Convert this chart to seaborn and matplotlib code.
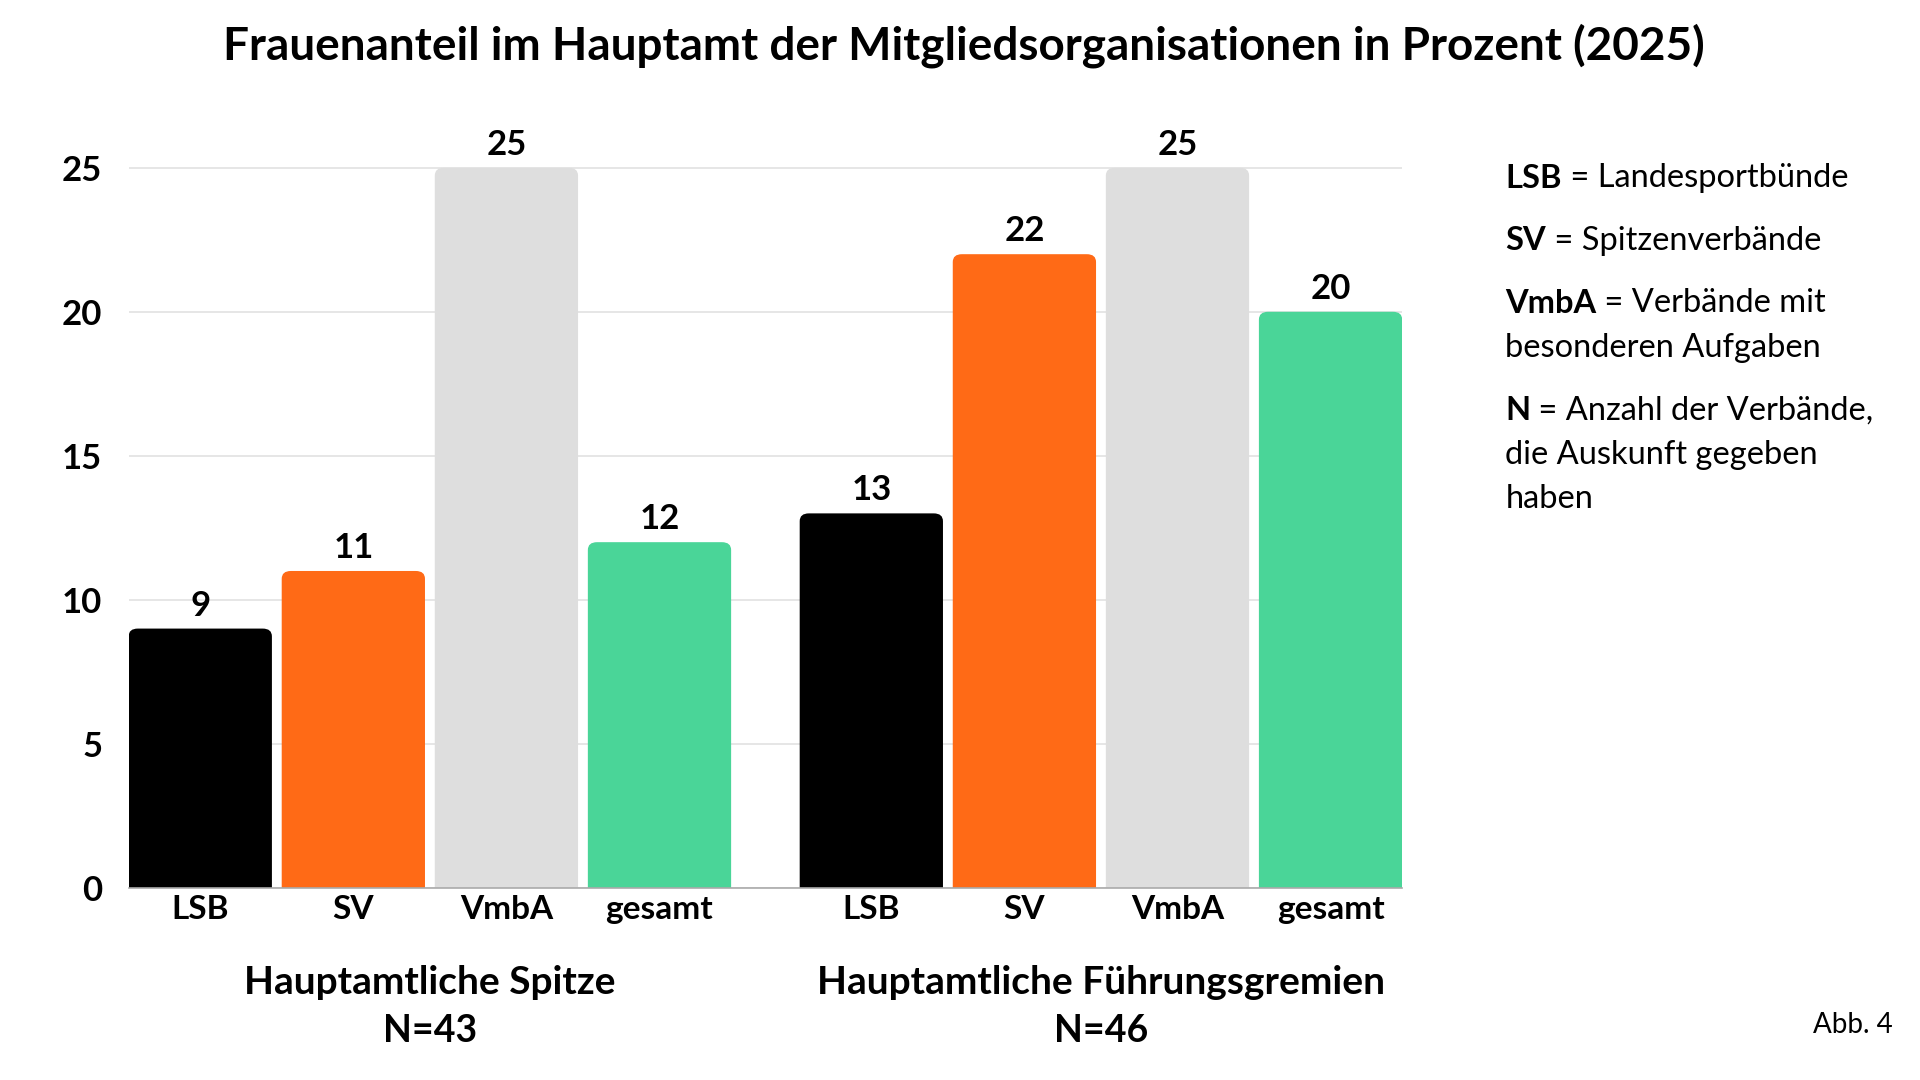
import pandas as pd
import numpy as np
import matplotlib
matplotlib.use('Agg')
import matplotlib.pyplot as plt
import matplotlib.transforms as mtransforms
from matplotlib.patches import FancyBboxPatch
import seaborn as sns

# Data
kategorien = ['LSB', 'SV', 'VmbA', 'gesamt']
gruppen = ['Hauptamtliche Spitze', 'Hauptamtliche Führungsgremien']
gruppen_n = ['N=43', 'N=46']
werte_spitze = [9, 11, 25, 12]
werte_gremien = [13, 22, 25, 20]
farben = {'LSB': '#000000', 'SV': '#FF6A16', 'VmbA': '#DEDEDE', 'gesamt': '#4AD598'}

legende = [
    ('LSB', ' = Landesportbünde', []),
    ('SV', ' = Spitzenverbände', []),
    ('VmbA', ' = Verbände mit', ['besonderen Aufgaben']),
    ('N', ' = Anzahl der Verbände,', ['die Auskunft gegeben', 'haben']),
]

# Build table: bar positions with a gap between the two groups
gap = 0.384
rows = []
for g, werte in enumerate([werte_spitze, werte_gremien]):
    for i, (k, w) in enumerate(zip(kategorien, werte)):
        rows.append({'pos': g * (len(kategorien) + gap) + i, 'kategorie': k,
                     'wert': w, 'gruppe': gruppen[g]})
df = pd.DataFrame(rows)

sns.set_theme(style='white')
plt.rcParams['font.family'] = ['Lato', 'DejaVu Sans']
plt.rcParams['text.color'] = 'black'
plt.rcParams['xtick.color'] = 'black'
plt.rcParams['ytick.color'] = 'black'

fig = plt.figure(figsize=(19.2, 10.8), dpi=100)
ax = fig.add_axes([0.067, 0.178, 0.6633, 0.6933])

sns.barplot(data=df, x='pos', y='wert', hue='kategorie', palette=farben,
            native_scale=True, dodge=False, width=0.936, legend=False,
            saturation=1, ax=ax, zorder=2)

# Rounded top corners
ymax = 26
ax.set_ylim(0, ymax)
ax.set_xlim(df['pos'].min() - 0.468, df['pos'].max() + 0.468)
for p in list(ax.patches):
    x, w, h = p.get_x(), p.get_width(), p.get_height()
    fc = p.get_facecolor()
    p.remove()
    rb = FancyBboxPatch((x, -1), w, h + 1,
                        boxstyle='round,pad=0,rounding_size=0.06',
                        mutation_aspect=4.5, facecolor=fc, edgecolor='none',
                        zorder=2)
    ax.add_patch(rb)

# Value labels
for _, r in df.iterrows():
    ax.annotate(f"{r['wert']:g}", (r['pos'], r['wert']), xytext=(0, 5),
                textcoords='offset points', ha='center', va='bottom',
                fontsize=25, fontweight='bold', color='black')

# Axes styling
ax.set_yticks([0, 5, 10, 15, 20, 25])
ax.yaxis.grid(True, color='#E2E2E2', linewidth=1.2, zorder=0)
ax.set_axisbelow(True)
ax.set_xticks(df['pos'])
ax.set_xticklabels(df['kategorie'])
ax.tick_params(axis='x', length=0, pad=5, labelsize=24, labelcolor='black')
ax.tick_params(axis='y', length=0, pad=19, labelsize=25, labelcolor='black')
for lab in ax.get_xticklabels() + ax.get_yticklabels():
    lab.set_fontweight('bold')
for s in ['top', 'right', 'left']:
    ax.spines[s].set_visible(False)
ax.spines['bottom'].set_color('#AAAAAA')
ax.spines['bottom'].set_linewidth(1.2)
ax.set_xlabel('')
ax.set_ylabel('')

# Group labels
trans = mtransforms.blended_transform_factory(ax.transData, fig.transFigure)
for g in range(len(gruppen)):
    mitte = df[df['gruppe'] == gruppen[g]]['pos'].mean()
    ax.text(mitte, 0.090, gruppen[g], transform=trans, ha='center', va='center',
            fontsize=28, fontweight='bold')
    ax.text(mitte, 0.045, gruppen_n[g], transform=trans, ha='center', va='center',
            fontsize=27, fontweight='bold')

# Title
fig.text(0.502, 0.958, 'Frauenanteil im Hauptamt der Mitgliedsorganisationen in Prozent (2025)',
         ha='center', va='center', fontsize=33, fontweight='bold')

# Explanations at the right
y = 0.835
for fett, rest, weiter in legende:
    t = fig.text(0.784, y, fett, ha='left', va='center', fontsize=23.5, fontweight='bold')
    ax.annotate(rest, xy=(1, 0.5), xycoords=t, ha='left', va='center', fontsize=23.5)
    for zeile in weiter:
        y -= 0.041
        fig.text(0.784, y, zeile, ha='left', va='center', fontsize=23.5)
    y -= 0.058

fig.text(0.986, 0.051, 'Abb. 4', ha='right', va='center', fontsize=20)

plt.savefig('out.png', dpi=100)
plt.close()
